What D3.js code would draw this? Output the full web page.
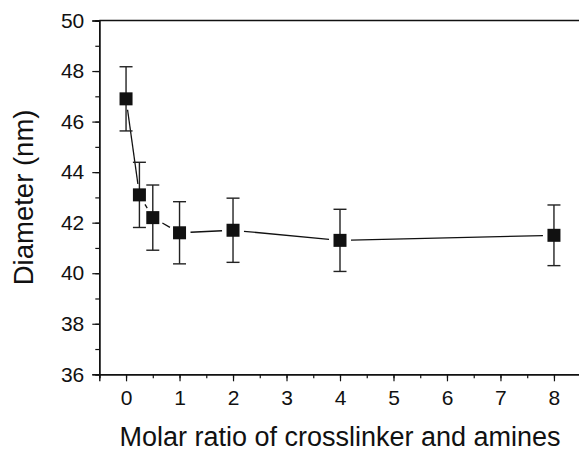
<!DOCTYPE html>
<html>
<head>
<meta charset="utf-8">
<script src="https://cdn.jsdelivr.net/npm/d3@7"></script>
<style>
  html, body { margin: 0; padding: 0; background: #fff; }
  svg { display: block; font-family: "Liberation Sans", Arial, sans-serif; }
</style>
</head>
<body>
<div id="viz"></div>
<script>
const W = 579;
const H = 453;

// Data
const ratios = [0, 0.25, 0.5, 1, 2, 4, 8];
const diameters = [46.9, 43.1, 42.2, 41.6, 41.7, 41.3, 41.5];
const errors = [1.27, 1.29, 1.29, 1.23, 1.27, 1.23, 1.2];
const xTicks = [0, 1, 2, 3, 4, 5, 6, 7, 8];
const yTicks = [36, 38, 40, 42, 44, 46, 48, 50];

const X_TITLE = 'Molar ratio of crosslinker and amines';
const Y_TITLE = 'Diameter (nm)';

const margin = { left: 99.3, top: 20.5, right: -1.7, bottom: 78.7 };
const MARK = 13;
const CAP = 13;
const GAP = 11;

const svg = d3.select('#viz').append('svg')
  .attr('width', W)
  .attr('height', H);

const x = d3.scaleLinear().domain([-0.5, 8.5]).range([margin.left, W - margin.right]);
const y = d3.scaleLinear().domain([36, 50]).range([H - margin.bottom, margin.top]);

const points = ratios.map((r, i) => ({ x: r, y: diameters[i], e: errors[i] }));

// frame: top line
svg.append('line')
  .attr('x1', x(-0.5)).attr('x2', x(8.5))
  .attr('y1', y(50)).attr('y2', y(50))
  .attr('stroke', '#111').attr('stroke-width', 1.4);

// x axis
const xMinor = d3.range(-0.5, 8.51, 0.5);
const xAxis = svg.append('g').attr('transform', `translate(0,${y(36)})`);
xAxis.call(d3.axisBottom(x).tickValues(xMinor).tickSize(4).tickFormat(''));
xAxis.append('g').call(d3.axisBottom(x).tickValues(xTicks).tickSize(7).tickPadding(9).tickFormat(d3.format('d')));
xAxis.selectAll('.domain').attr('stroke', '#111').attr('stroke-width', 1.4);
xAxis.selectAll('.tick line').attr('stroke', '#111').attr('stroke-width', 1.2);
xAxis.selectAll('text').attr('font-size', 21).attr('fill', '#111')
  .attr('font-family', '"Liberation Sans", Arial, sans-serif');

// y axis
const yMinor = d3.range(36, 50.01, 1);
const yAxis = svg.append('g').attr('transform', `translate(${x(-0.5)},0)`);
yAxis.call(d3.axisLeft(y).tickValues(yMinor).tickSize(4).tickFormat(''));
yAxis.append('g').call(d3.axisLeft(y).tickValues(yTicks).tickSize(7).tickPadding(8).tickFormat(d3.format('d')));
yAxis.selectAll('.domain').attr('stroke', '#111').attr('stroke-width', 1.4);
yAxis.selectAll('.tick line').attr('stroke', '#111').attr('stroke-width', 1.2);
yAxis.selectAll('text').attr('font-size', 21).attr('fill', '#111')
  .attr('font-family', '"Liberation Sans", Arial, sans-serif');

// connecting line, clipped short of each marker
const segs = d3.pairs(points).map(([a, b]) => {
  const x1 = x(a.x), y1 = y(a.y), x2 = x(b.x), y2 = y(b.y);
  const len = Math.hypot(x2 - x1, y2 - y1);
  const ux = (x2 - x1) / len, uy = (y2 - y1) / len;
  return { x1: x1 + ux * GAP, y1: y1 + uy * GAP, x2: x2 - ux * GAP, y2: y2 - uy * GAP, ok: len > 2 * GAP };
}).filter((s) => s.ok);

svg.append('g').selectAll('line').data(segs).join('line')
  .attr('x1', (d) => d.x1).attr('y1', (d) => d.y1)
  .attr('x2', (d) => d.x2).attr('y2', (d) => d.y2)
  .attr('stroke', '#111').attr('stroke-width', 1.3);

// error bars
const eb = svg.append('g').attr('stroke', '#222').attr('stroke-width', 1.4);
eb.selectAll('line.v').data(points).join('line').attr('class', 'v')
  .attr('x1', (d) => x(d.x)).attr('x2', (d) => x(d.x))
  .attr('y1', (d) => y(d.y - d.e)).attr('y2', (d) => y(d.y + d.e));
eb.selectAll('line.top').data(points).join('line').attr('class', 'top')
  .attr('x1', (d) => x(d.x) - CAP / 2).attr('x2', (d) => x(d.x) + CAP / 2)
  .attr('y1', (d) => y(d.y + d.e)).attr('y2', (d) => y(d.y + d.e));
eb.selectAll('line.bot').data(points).join('line').attr('class', 'bot')
  .attr('x1', (d) => x(d.x) - CAP / 2).attr('x2', (d) => x(d.x) + CAP / 2)
  .attr('y1', (d) => y(d.y - d.e)).attr('y2', (d) => y(d.y - d.e));

// markers
svg.append('g').selectAll('rect').data(points).join('rect')
  .attr('x', (d) => x(d.x) - MARK / 2)
  .attr('y', (d) => y(d.y) - MARK / 2)
  .attr('width', MARK).attr('height', MARK)
  .attr('fill', '#111');

// titles
svg.append('text')
  .attr('x', 340)
  .attr('y', 446)
  .attr('text-anchor', 'middle')
  .attr('font-size', 27)
  .attr('fill', '#111')
  .text(X_TITLE);

svg.append('text')
  .attr('transform', `translate(33,${(y(36) + y(50)) / 2}) rotate(-90)`)
  .attr('text-anchor', 'middle')
  .attr('font-size', 27.5)
  .attr('fill', '#111')
  .text(Y_TITLE);
</script>
</body>
</html>
